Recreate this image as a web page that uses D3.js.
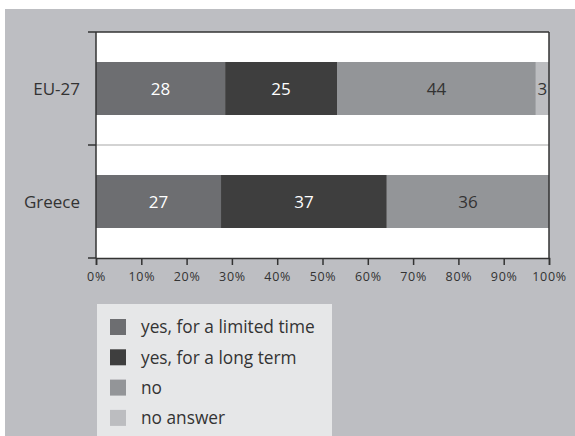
<!DOCTYPE html>
<html>
<head>
<meta charset="utf-8">
<script src="https://cdn.jsdelivr.net/npm/d3@7"></script>
<style>
  html, body { margin: 0; padding: 0; background: #ffffff; }
  svg { display: block; font-family: "Open Sans", sans-serif; }
</style>
</head>
<body>
<svg id="chart" width="575" height="436"></svg>
<script>
const categories = ["EU-27", "Greece"];
const seriesNames = ["yes, for a limited time", "yes, for a long term", "no", "no answer"];
const euValues = [28.5, 24.7, 43.9, 2.9];
const greeceValues = [27.6, 36.6, 35.8, 0];
const euLabels = ["28", "25", "44", "3"];
const greeceLabels = ["27", "37", "36", ""];
const xTicks = [0, 10, 20, 30, 40, 50, 60, 70, 80, 90, 100];

const colors = ["#6d6e71", "#3e3e3e", "#939598", "#bcbdc0"];
const labelColors = ["#ffffff", "#ffffff", "#333333", "#333333"];

const rows = [
  { cat: categories[0], values: euValues, labels: euLabels },
  { cat: categories[1], values: greeceValues, labels: greeceLabels }
];

const svg = d3.select("#chart");

// background
svg.append("rect").attr("x", 5).attr("y", 9).attr("width", 570).attr("height", 427).attr("fill", "#bdbec2");

const pL = 96, pR = 549, pT = 32, pB = 258;
svg.append("rect").attr("x", pL).attr("y", pT).attr("width", pR - pL).attr("height", pB - pT).attr("fill", "#ffffff");

const x = d3.scaleLinear().domain([0, 100]).range([pL, pR]);
const y = d3.scaleBand().domain(categories).range([pT, pB]).paddingInner(0.531).paddingOuter(0.2655);
const yFull = d3.scaleBand().domain(categories).range([pT, pB]).padding(0);

// separator
svg.append("line").attr("x1", pL).attr("x2", pR)
  .attr("y1", yFull(categories[1])).attr("y2", yFull(categories[1]))
  .attr("stroke", "#c4c4c4").attr("stroke-width", 1.5);

// bars
rows.forEach(r => {
  let cum = 0;
  r.values.forEach((v, i) => {
    const x0 = cum, x1 = cum + v;
    cum = x1;
    if (v <= 0) return;
    svg.append("rect")
      .attr("x", x(x0)).attr("y", y(r.cat))
      .attr("width", x(x1) - x(x0)).attr("height", y.bandwidth())
      .attr("fill", colors[i]);
    if (r.labels[i]) {
      svg.append("text")
        .attr("x", (x(x0) + x(x1)) / 2)
        .attr("y", y(r.cat) + y.bandwidth() / 2)
        .attr("dy", "0.36em")
        .attr("text-anchor", "middle")
        .attr("font-size", 17)
        .attr("fill", labelColors[i])
        .text(r.labels[i]);
    }
  });
});

// frame top and right
svg.append("line").attr("x1", pL).attr("x2", pR).attr("y1", pT).attr("y2", pT)
  .attr("stroke", "#333").attr("stroke-width", 1.5);
svg.append("line").attr("x1", pR).attr("x2", pR).attr("y1", pT).attr("y2", pB)
  .attr("stroke", "#333").attr("stroke-width", 1.5);

// x axis
const xAxis = d3.axisBottom(x).tickValues(xTicks).tickFormat(d => d + "%").tickSize(7).tickPadding(7);
const gx = svg.append("g").attr("transform", `translate(0,${pB})`).call(xAxis);
gx.select(".domain").attr("stroke", "#333").attr("stroke-width", 1.5);
gx.selectAll(".tick line").attr("stroke", "#333").attr("stroke-width", 1.5);
gx.selectAll(".tick text").attr("font-size", 12.5).attr("fill", "#333")
  .attr("font-family", "Open Sans, sans-serif").attr("letter-spacing", 0.7);

// y axis (boundary ticks)
const gy = svg.append("g");
gy.append("line").attr("x1", pL).attr("x2", pL).attr("y1", pT).attr("y2", pB)
  .attr("stroke", "#333").attr("stroke-width", 1.5);
const boundaries = [pT, yFull(categories[1]), pB];
gy.selectAll("line.tk").data(boundaries).join("line").attr("class", "tk")
  .attr("x1", pL - 8).attr("x2", pL).attr("y1", d => d).attr("y2", d => d)
  .attr("stroke", "#333").attr("stroke-width", 1.5);
gy.selectAll("text").data(categories).join("text")
  .attr("x", pL - 16)
  .attr("y", d => y(d) + y.bandwidth() / 2)
  .attr("dy", "0.36em")
  .attr("text-anchor", "end")
  .attr("font-size", 17)
  .attr("fill", "#333")
  .text(d => d);

// legend
const lg = svg.append("g");
lg.append("rect").attr("x", 97).attr("y", 304).attr("width", 235).attr("height", 132).attr("fill", "#e6e7e8");
seriesNames.forEach((name, i) => {
  const yy = 319 + i * 30.3;
  lg.append("rect").attr("x", 110).attr("y", yy).attr("width", 16).attr("height", 16).attr("fill", colors[i]);
  lg.append("text").attr("x", 141).attr("y", yy + 8).attr("dy", "0.36em")
    .attr("font-size", 17.3).attr("fill", "#333").text(name);
});
</script>
</body>
</html>
